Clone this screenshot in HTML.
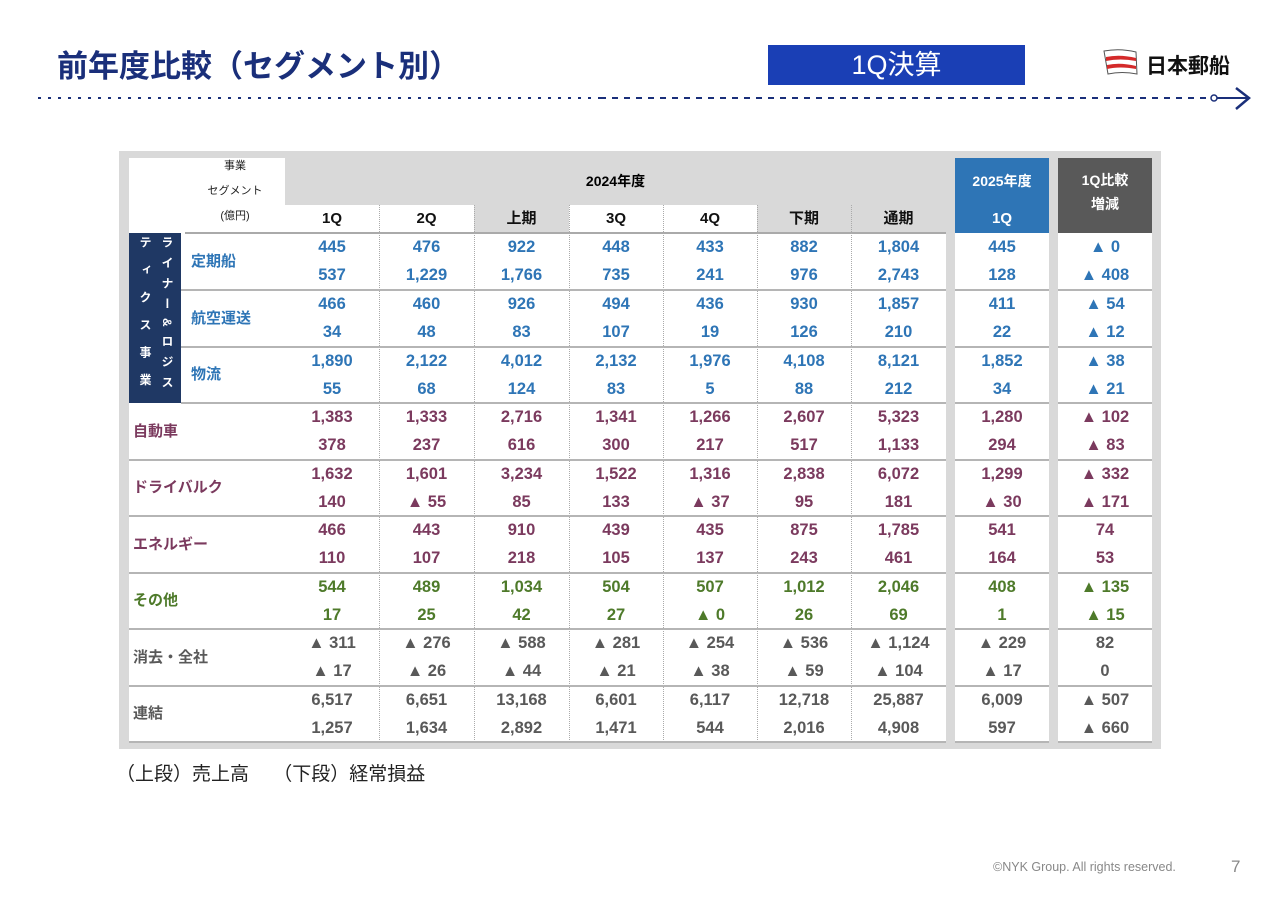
<!DOCTYPE html>
<html><head><meta charset="utf-8">
<style>
body{margin:0;width:1280px;height:905px;background:#fff;position:relative;overflow:hidden;font-family:"Liberation Sans","Noto Sans CJK JP",sans-serif;}
.a{position:absolute;box-sizing:border-box;}
</style></head><body>
<div class="a" style="left:57px;top:46px;font-size:31px;font-weight:bold;color:#1a2f7a;line-height:42px;white-space:nowrap;">前年度比較（セグメント別）</div>
<div class="a" style="left:768px;top:45px;width:257px;height:40px;background:#1a3fb5;color:#fff;font-size:27px;text-align:center;line-height:40px;">1Q決算</div>
<div class="a" style="left:1102px;top:48px;width:150px;height:30px;">
 <svg width="40" height="30" style="position:absolute;left:0;top:0"><path d="M2 3 Q18 0 34 4 L35 26 Q20 23 6 26 Z" fill="#fff" stroke="#555" stroke-width="1"/><path d="M4 9 Q18 6 34 10 L34 13 Q18 10 4 13Z M5 17 Q18 14 34 18 L34 21 Q18 18 5 21Z" fill="#d42a2a"/></svg>
 <span style="position:absolute;left:44px;top:2px;font-size:21px;font-weight:bold;color:#111;white-space:nowrap;">日本郵船</span>
</div>
<svg class="a" style="left:0;top:85px" width="1280" height="30">
 <line x1="38" y1="13" x2="600" y2="13" stroke="#1a2f7a" stroke-width="2" stroke-dasharray="3 7"/>
 <line x1="600" y1="13" x2="1208" y2="13" stroke="#1a2f7a" stroke-width="2" stroke-dasharray="6 6"/>
 <circle cx="1214" cy="13" r="3" fill="#fff" stroke="#1a2f7a" stroke-width="1.5"/>
 <line x1="1217" y1="13" x2="1248" y2="13" stroke="#1a2f7a" stroke-width="2"/>
 <path d="M1236 3 L1249 13 L1236 24" fill="none" stroke="#1a2f7a" stroke-width="2.5"/>
</svg>
<div class="a" style="left:119px;top:151px;width:1042px;height:598px;background:#d9d9d9;"></div>
<div id="tbl"></div>
<div class="a" style="left:116px;top:759px;font-size:19px;color:#222;white-space:pre;">（上段）売上高　 （下段）経常損益</div>
<div class="a" style="left:993px;top:860px;font-size:12.5px;color:#888;white-space:nowrap;">©NYK Group. All rights reserved.</div>
<div class="a" style="left:1231px;top:857px;font-size:17px;color:#888;">7</div>
<script>
const colHeaders=["1Q","2Q","上期","3Q","4Q","下期","通期","1Q",""];
const rowNames=["定期船","航空運送","物流","自動車","ドライバルク","エネルギー","その他","消去・全社","連結"];
const rowColors=["#2e75b6","#2e75b6","#2e75b6","#7b3a5e","#7b3a5e","#7b3a5e","#4e7a2a","#595959","#595959"];
const salesRows=[
["445","476","922","448","433","882","1,804","445","▲ 0"],
["466","460","926","494","436","930","1,857","411","▲ 54"],
["1,890","2,122","4,012","2,132","1,976","4,108","8,121","1,852","▲ 38"],
["1,383","1,333","2,716","1,341","1,266","2,607","5,323","1,280","▲ 102"],
["1,632","1,601","3,234","1,522","1,316","2,838","6,072","1,299","▲ 332"],
["466","443","910","439","435","875","1,785","541","74"],
["544","489","1,034","504","507","1,012","2,046","408","▲ 135"],
["▲ 311","▲ 276","▲ 588","▲ 281","▲ 254","▲ 536","▲ 1,124","▲ 229","82"],
["6,517","6,651","13,168","6,601","6,117","12,718","25,887","6,009","▲ 507"]];
const profitRows=[
["537","1,229","1,766","735","241","976","2,743","128","▲ 408"],
["34","48","83","107","19","126","210","22","▲ 12"],
["55","68","124","83","5","88","212","34","▲ 21"],
["378","237","616","300","217","517","1,133","294","▲ 83"],
["140","▲ 55","85","133","▲ 37","95","181","▲ 30","▲ 171"],
["110","107","218","105","137","243","461","164","53"],
["17","25","42","27","▲ 0","26","69","1","▲ 15"],
["▲ 17","▲ 26","▲ 44","▲ 21","▲ 38","▲ 59","▲ 104","▲ 17","0"],
["1,257","1,634","2,892","1,471","544","2,016","4,908","597","▲ 660"]];
const colX=[285,379,474,569,663,757,851,955,1058];
const colW=[94,95,95,94,94,94,95,94,94];
const rowY=[233,290,347,403,460,516,573,629,686];
const rowH=[57,57,56,57,56,57,56,57,56];
const T=document.getElementById('tbl');
function box(name,l,t,w,h,st,txt){const d=document.createElement('div');d.className='a';


d.style.cssText=`left:${l}px;top:${t}px;width:${w}px;height:${h}px;`+st;if(txt!==undefined)d.textContent=txt;T.appendChild(d);return d;}
box('row-label-area',129,158,156,584,'background:#fff;');
box('data-area-2024',285,205,661,537,'background:#fff;');
box('data-area-2025',955,233,94,509,'background:#fff;');
box('data-area-diff',1058,233,94,509,'background:#fff;');
box('header-2024',285,158,661,47,'background:#d9d9d9;font-weight:bold;font-size:14px;text-align:center;line-height:47px;','2024年度');
box('header-2025',955,158,94,75,'background:#2e75b6;color:#fff;font-weight:bold;font-size:14px;text-align:center;line-height:21px;padding-top:13px;','2025年度');
box('header-2025-1q',955,205,94,28,'color:#fff;font-weight:bold;font-size:15px;text-align:center;line-height:28px;','1Q');
box('header-diff',1058,158,94,75,'background:#595959;color:#fff;font-weight:bold;font-size:14px;text-align:center;line-height:24px;padding-top:10px;white-space:pre;','1Q比較\n増減');
box('segment-label',185,154,100,79,'font-size:11px;text-align:center;line-height:25px;white-space:pre;color:#222;','事業\nセグメント\n(億円)');
for(let i=0;i<7;i++){
 const gray=(i==2||i==5||i==6);
 box('col-header-'+i,colX[i],205,colW[i],28,(gray?'background:#d9d9d9;':'')+'font-weight:bold;font-size:15px;text-align:center;line-height:28px;color:#111;',colHeaders[i]);
 if(i>0)box('col-sep-'+i,colX[i],205,0,537,'border-left:1px dotted #aaa;');
}
box('header-underline',185,232,761,0,'border-top:2px solid #aaa;');
box('liner-band',129,233,52,170,'background:#1f3864;');
box('liner-band-text-r',157,236,20,165,'writing-mode:vertical-rl;color:#fff;font-size:12px;font-weight:bold;letter-spacing:8.5px;line-height:20px;','ライナー&ロジス');
box('liner-band-text-l',135,236,20,165,'writing-mode:vertical-rl;color:#fff;font-size:12px;font-weight:bold;letter-spacing:15.5px;line-height:20px;','ティクス事業');
for(let r=0;r<rowNames.length;r++){
 const y=rowY[r],h=rowH[r],col=rowColors[r];
 const lx=r<3?191:133;
 box('row-label-'+r,lx,y,150,h,`color:${col};font-weight:bold;font-size:15px;line-height:${h}px;`,rowNames[r]);
 const ls=r<3?181:129;
 box('row-line-'+r,ls,y+h-1,946-ls,0,'border-top:2px solid #b5b5b5;');
 box('row-line-2025-'+r,955,y+h-1,94,0,'border-top:2px solid #b5b5b5;');
 box('row-line-diff-'+r,1058,y+h-1,94,0,'border-top:2px solid #b5b5b5;');
 for(let c=0;c<9;c++){
  box(`sales-${r}-${c}`,colX[c],y,colW[c],28,`text-align:center;font-weight:bold;font-size:16.5px;line-height:28px;color:${col};white-space:nowrap;`,salesRows[r][c]);
  box(`profit-${r}-${c}`,colX[c],y+28,colW[c],28,`text-align:center;font-weight:bold;font-size:16.5px;line-height:28px;color:${col};white-space:nowrap;`,profitRows[r][c]);
 }
}
</script>
</body></html>
